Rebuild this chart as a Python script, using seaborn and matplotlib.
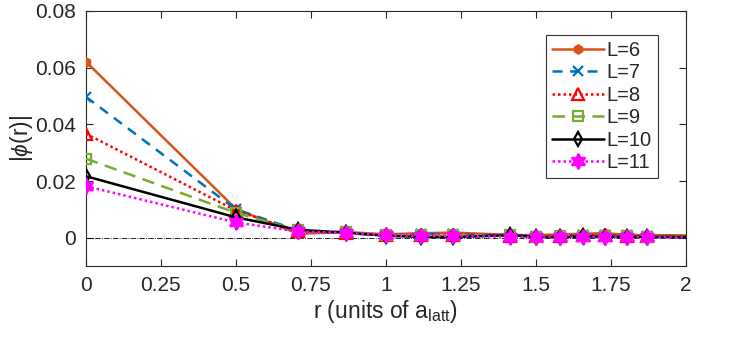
import numpy as np
import pandas as pd
import matplotlib
matplotlib.use("Agg")
import matplotlib.pyplot as plt
import seaborn as sns

# distances r (units of a_latt)
r = [0, 0.5, 0.707, 0.866, 1.0, 1.118, 1.225, 1.414, 1.5, 1.581, 1.658, 1.732, 1.803, 1.871, 2.06]

phi_L6 = [0.0621, 0.0102, 0.0014, 0.0020, 0.0012, 0.0016, 0.0018, 0.0010, 0.0009, 0.0012, 0.0014, 0.0016, 0.0010, 0.0009, 0.0008]
phi_L7 = [0.0497, 0.0100, 0.0026, 0.0016, 0.0008, 0.0014, 0.0012, 0.0010, 0.0006, 0.0007, 0.0008, 0.0009, 0.0008, 0.0006, 0.0005]
phi_L8 = [0.0367, 0.0096, 0.0022, 0.0018, 0.0009, 0.0010, 0.0011, 0.0006, 0.0005, 0.0006, 0.0008, 0.0010, 0.0006, 0.0005, 0.0004]
phi_L9 = [0.0279, 0.0088, 0.0026, 0.0020, 0.0009, 0.0008, 0.0008, 0.0008, 0.0004, 0.0005, 0.0007, 0.0006, 0.0005, 0.0004, 0.0003]
phi_L10 = [0.0217, 0.0072, 0.0028, 0.0018, 0.0007, 0.0003, 0.0002, 0.0009, 0.0003, 0.0002, 0.0005, 0.0003, 0.0004, 0.0003, 0.0002]
phi_L11 = [0.0182, 0.0054, 0.0022, 0.0017, 0.0009, 0.0006, 0.0005, 0.0004, 0.0002, 0.0002, 0.0003, 0.0003, 0.0002, 0.0002, 0.0001]

labels = ["L=6", "L=7", "L=8", "L=9", "L=10", "L=11"]
series = [phi_L6, phi_L7, phi_L8, phi_L9, phi_L10, phi_L11]

colors = ["#D95319", "#0072BD", "#FF0000", "#77AC30", "#000000", "#FF00FF"]
styles = ["-", (0, (4, 3)), (0, (1, 1.2)), (0, (5, 3)), "-", (0, (1, 1.2))]
markers = ["h", "x", "^", "s", "d", (6, 1, 0)]
msizes = [6, 7, 8, 7, 7, 11]
filled = [True, True, False, False, False, True]

sns.set_style("ticks")
plt.rcParams["font.family"] = ["Liberation Sans", "DejaVu Sans"]
plt.rcParams["mathtext.fontset"] = "custom"
plt.rcParams["mathtext.rm"] = "Liberation Sans"
plt.rcParams["mathtext.it"] = "Liberation Sans:italic"

fig = plt.figure(figsize=(7.47, 3.42), dpi=100)
ax = fig.add_axes([0.115, 0.222, 0.803, 0.746])

ax.axhline(0, color="black", lw=0.6, ls="-.", zorder=1)

for lab, vals, c, ls, m, ms, f in zip(labels, series, colors, styles, markers, msizes, filled):
    df = pd.DataFrame({"r": r, "phi": vals})
    sns.lineplot(data=df, x="r", y="phi", ax=ax, color=c, lw=1.8,
                 marker=m, markersize=ms, markeredgewidth=1.6,
                 markerfacecolor=c if f else "none", markeredgecolor=c,
                 label=lab, zorder=3)
    ax.lines[-1].set_linestyle(ls)

ax.set_xlim(0, 2)
ax.set_ylim(-0.01, 0.08)
ax.set_xticks([0, 0.25, 0.5, 0.75, 1, 1.25, 1.5, 1.75, 2])
ax.set_xticklabels(["0", "0.25", "0.5", "0.75", "1", "1.25", "1.5", "1.75", "2"])
ax.set_yticks([0, 0.02, 0.04, 0.06, 0.08])
ax.set_yticklabels(["0", "0.02", "0.04", "0.06", "0.08"])
ax.tick_params(direction="in", top=True, right=True, labelsize=15, length=5, width=0.8, pad=7)
for s in ax.spines.values():
    s.set_linewidth(0.8)

ax.set_xlabel(r"r (units of a$_{\mathrm{latt}}$)", fontsize=16.5, labelpad=2)
ax.set_ylabel(r"$|\mathit{\phi}$(r)$|$", fontsize=16.5, labelpad=0)

leg = ax.legend(loc="upper right", bbox_to_anchor=(0.953, 0.906), fontsize=14.5,
                handlelength=2.6, handletextpad=0.1, labelspacing=0.17,
                borderpad=0.3, borderaxespad=0, fancybox=False, framealpha=1)
leg.get_frame().set_edgecolor("#333333")
leg.get_frame().set_linewidth(0.8)

fig.savefig("out.png", dpi=100)
